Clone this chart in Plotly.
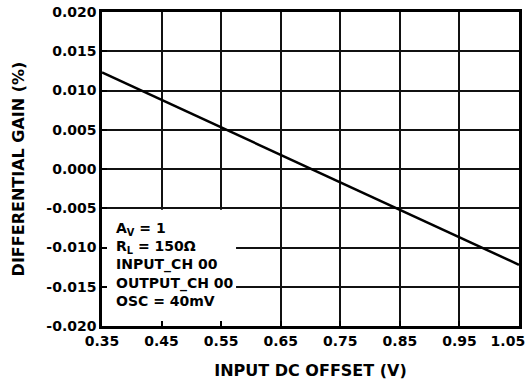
import plotly.graph_objects as go

# Data
input_dc_offset = [0.35, 0.45, 0.55, 0.65, 0.75, 0.85, 0.95, 1.05]
differential_gain = [0.0123, 0.0088, 0.0053, 0.0018, -0.0017, -0.0052, -0.0087, -0.0122]

x_tick_vals = [0.35, 0.45, 0.55, 0.65, 0.75, 0.85, 0.95, 1.05]
x_tick_labels = ["0.35", "0.45", "0.55", "0.65", "0.75", "0.85", "0.95", "1.05"]
y_tick_vals = [0.020, 0.015, 0.010, 0.005, 0.000, -0.005, -0.010, -0.015, -0.020]
y_tick_labels = ["0.020", "0.015", "0.010", "0.005", "0.000", "-0.005", "-0.010", "-0.015", "-0.020"]

conditions = ["A<sub>V</sub> = 1", "R<sub>L</sub> = 150Ω", "INPUT_CH 00", "OUTPUT_CH 00", "OSC = 40mV"]

FONT = "DejaVu Sans"
NBSP = "\u00a0"

# last x label is nudged inward like in the reference
x_display = ["<b>" + t + "</b>" for t in x_tick_labels]
x_display[-1] = x_display[-1] + NBSP * 5

fig = go.Figure()
fig.add_trace(go.Scatter(
    x=input_dc_offset, y=differential_gain, mode="lines",
    line=dict(color="black", width=2.5), showlegend=False, hoverinfo="skip"))

axis_common = dict(
    showgrid=True, gridcolor="#111111", gridwidth=1.5,
    showline=True, linecolor="black", linewidth=2.5, mirror=True,
    ticks="inside", ticklen=5, tickwidth=1.5, tickcolor="black",
    zeroline=False, automargin=False, ticklabeloverflow="allow",
    tickfont=dict(family=FONT, size=14, color="black"),
)

fig.update_xaxes(
    range=[0.35, 1.05], tickvals=x_tick_vals, ticktext=x_display,
    title=dict(text="<b>INPUT DC OFFSET (V)</b>", font=dict(family=FONT, size=16, color="black"), standoff=18),
    **axis_common)
fig.update_yaxes(
    range=[-0.020, 0.020], tickvals=y_tick_vals,
    ticktext=["<b>" + t + "</b>" for t in y_tick_labels],
    title=dict(text="<b>DIFFERENTIAL GAIN (%)</b>", font=dict(family=FONT, size=16, color="black"), standoff=18),
    **axis_common)

# white box behind condition text (hides grid lines)
fig.add_shape(type="rect", xref="x", yref="y", x0=0.35, x1=0.575, y0=-0.020, y1=-0.0052,
              fillcolor="white", line=dict(width=0), layer="between")

fig.add_annotation(
    xref="x", yref="y", x=0.35, y=-0.0055, xshift=12, yshift=-6,
    xanchor="left", yanchor="top", align="left", showarrow=False,
    text="<br>".join("<b>" + c + "</b>" for c in conditions),
    font=dict(family=FONT, size=14, color="black"))

fig.update_layout(
    width=528, height=381,
    margin=dict(l=102, r=9, t=12, b=55),
    paper_bgcolor="white", plot_bgcolor="white",
    font=dict(family=FONT, color="black"),
)

# remove the browser's default 8px body margin so the figure fills the window
fig.write_html("out.html", config={"displayModeBar": False},
               post_script="document.body.style.margin='0';document.body.style.overflow='hidden';")
